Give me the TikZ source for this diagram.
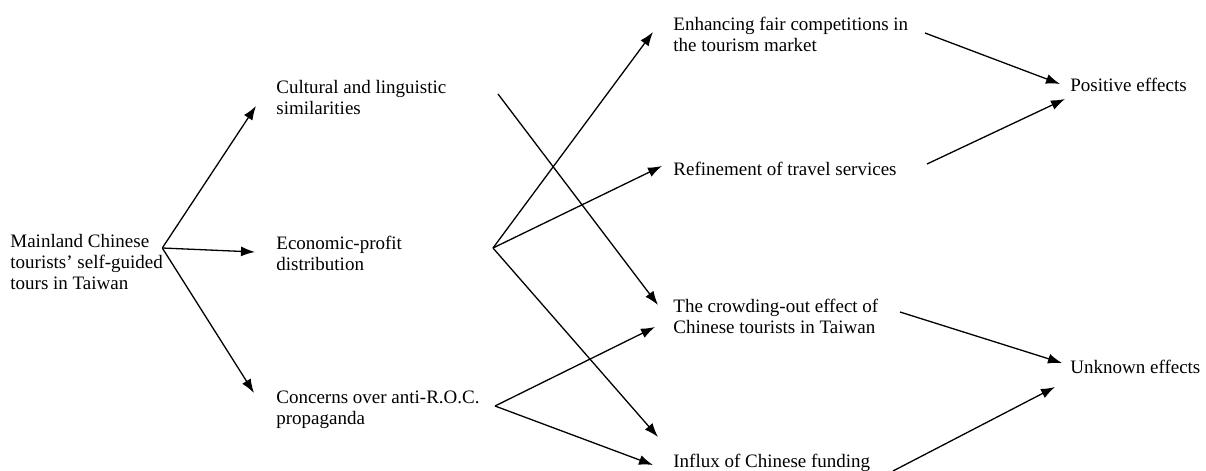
\documentclass[tikz,border=0pt]{standalone}
\usepackage{fontspec}
\setmainfont{Liberation Serif}
\usetikzlibrary{arrows.meta,calc}

\begin{document}
\begin{tikzpicture}[x=0.5pt,y=-0.5pt,
  lbl/.style={anchor=west,inner sep=0pt,align=left,font=\fontsize{9.5}{10.5}\selectfont},
  arr/.style={line width=0.65pt,-{Latex[length=7pt,width=5pt]}}]
\useasboundingbox (0,0) rectangle (1206,471);
% cause
\node[lbl] (tours) at (10,262) {Mainland Chinese\\tourists' self-guided\\tours in Taiwan};
% factors
\node[lbl] (cult) at (276,97.5) {Cultural and linguistic\\similarities};
\node[lbl] (econ) at (276,253) {Economic-profit\\distribution};
\node[lbl] (conc) at (276,409.5) {Concerns over anti-R.O.C.\\propaganda};
% impacts
\node[lbl] (fair) at (673,34) {Enhancing fair competitions in\\the tourism market};
\node[lbl] (refine) at (673,169) {Refinement of travel services};
\node[lbl] (crowd) at (673,316) {The crowding-out effect of\\Chinese tourists in Taiwan};
\node[lbl] (funds) at (673,463) {Influx of Chinese funding};
% effects
\node[lbl] (pos) at (1070,85) {Positive effects};
\node[lbl] (unk) at (1070,367) {Unknown effects};
% start points of the fans
\coordinate (toursout) at ($(tours.east)+(-1,-14)$);
\coordinate (cultout) at ($(cult.west)+(222,-3.5)$);
\coordinate (econout) at ($(econ.west)+(217,-5)$);
\coordinate (concout) at ($(conc.west)+(219,-3.5)$);
\coordinate (fairout) at ($(fair.west)+(252,-1)$);
\coordinate (refineout) at ($(refine.west)+(254,-5)$);
\coordinate (crowdout) at ($(crowd.west)+(227,-4)$);
\coordinate (fundsout) at ($(funds.west)+(220,8)$);
% arrows
\draw[arr] (toursout) -- ($(cult.west)+(-20,8.5)$);
\draw[arr] (toursout) -- ($(econ.west)+(-21,-1)$);
\draw[arr] (toursout) -- ($(conc.west)+(-22,-16.5)$);
\draw[arr] (cultout) -- ($(crowd.west)+(-15,-11)$);
\draw[arr] (econout) -- ($(fair.west)+(-20,-2)$);
\draw[arr] (econout) -- ($(refine.west)+(-11,-3)$);
\draw[arr] (econout) -- ($(funds.west)+(-15,-26)$);
\draw[arr] (concout) -- ($(crowd.west)+(-18,11)$);
\draw[arr] (concout) -- ($(funds.west)+(-20,2)$);
\draw[arr] (fairout) -- ($(pos.west)+(-10,-1)$);
\draw[arr] (refineout) -- ($(pos.west)+(-5,14)$);
\draw[arr] (crowdout) -- ($(unk.west)+(-8,-4)$);
\draw[arr] (fundsout) -- ($(unk.west)+(-15,20)$);
\end{tikzpicture}
\end{document}
